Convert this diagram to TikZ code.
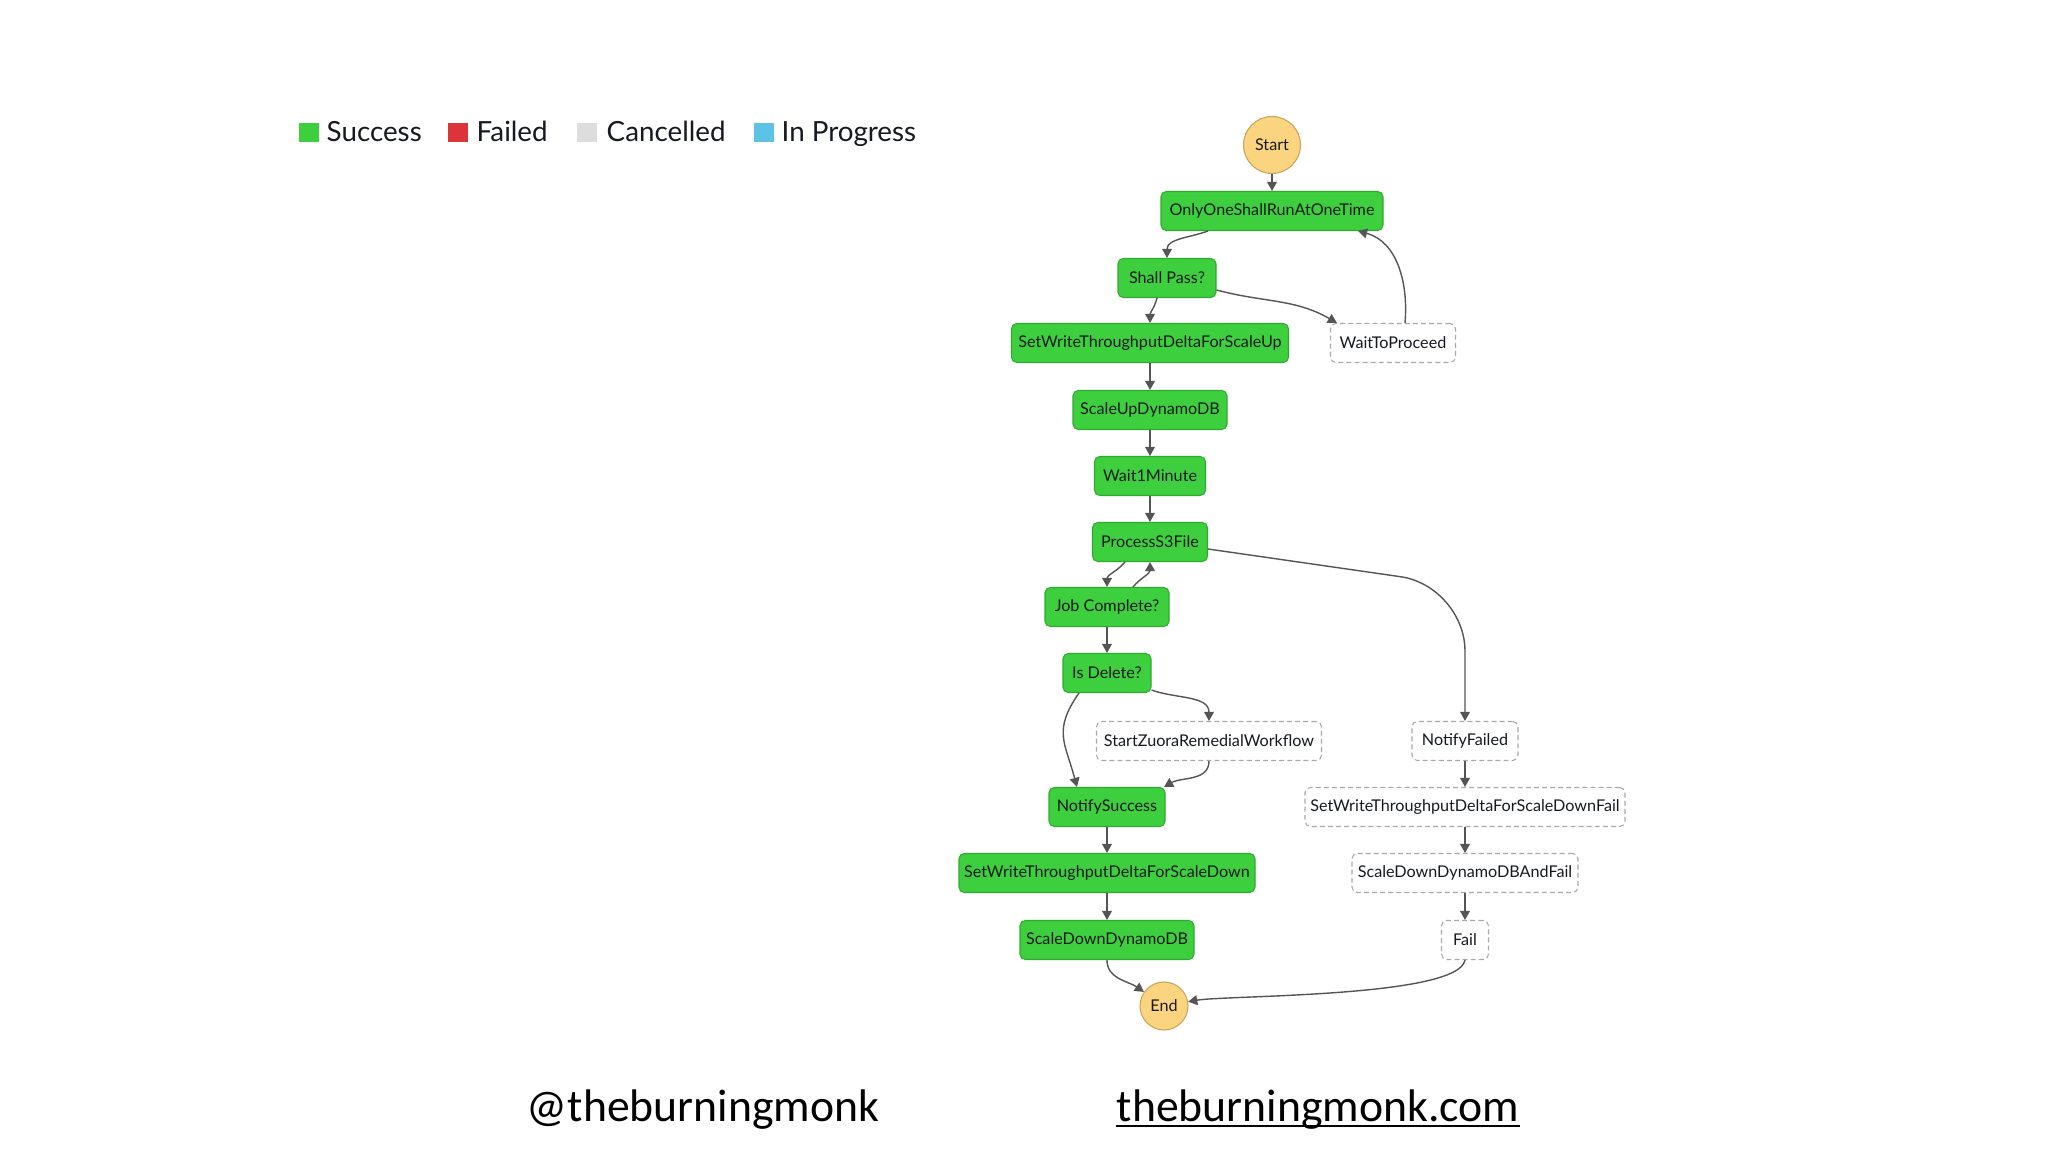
\documentclass[tikz,border=0pt]{standalone}
\usepackage{fontspec}
\setmainfont{Lato}
\newfontfamily\handlefont{Carlito}
\usetikzlibrary{arrows.meta,positioning}
\usepackage{xcolor}
\definecolor{okgreen}{HTML}{3ECF3E}
\definecolor{okgreenline}{HTML}{2EAA2E}
\definecolor{failred}{HTML}{DB3539}
\definecolor{cancelgrey}{HTML}{DDDDDD}
\definecolor{runblue}{HTML}{5CC3E6}
\definecolor{termfill}{HTML}{FBD47F}
\definecolor{termline}{HTML}{C9A45A}
\definecolor{skipline}{HTML}{A8A8A8}
\definecolor{edgegrey}{HTML}{555555}
\definecolor{inkdark}{HTML}{16191F}
\tikzset{
  state/.style={draw=okgreenline,fill=okgreen,rounded corners=1.5pt,line width=0.3pt,
    minimum height=0.39cm,inner sep=0pt,font=\fontsize{4.6}{5}\selectfont,text=inkdark},
  skipped/.style={state,draw=skipline,fill=white,dash pattern=on 1.4pt off 0.9pt},
  terminal/.style={circle,draw=termline,fill=termfill,line width=0.3pt,inner sep=0pt,
    font=\fontsize{4.6}{5}\selectfont,text=inkdark},
  flow/.style={draw=edgegrey,line width=0.4pt,-{Triangle[length=2.6pt,width=2.8pt]}},
  legendbox/.style={minimum width=0.2cm,minimum height=0.19cm,inner sep=0pt},
  legendtext/.style={anchor=base west,font=\fontsize{7.9}{9}\selectfont,text=inkdark,inner sep=0pt},
  footer/.style={anchor=base,font=\handlefont\fontsize{13}{15}\selectfont,text=black,inner sep=0pt},
}

\begin{document}
\begin{tikzpicture}
  % Page
  \fill[white] (0,0) rectangle (20.48,-11.52);
  \useasboundingbox (0,0) rectangle (20.48,-11.52);

  % Legend
  \node[legendbox,fill=okgreen] (lgok) at (3.09,-1.325) {};
  \node[legendtext] (lgoktext) at (3.26,-1.415) {Success};
  \node[legendbox,fill=failred] (lgfail) at (4.58,-1.325) {};
  \node[legendtext] (lgfailtext) at (4.76,-1.415) {Failed};
  \node[legendbox,fill=cancelgrey] (lgcancel) at (5.865,-1.325) {};
  \node[legendtext] (lgcanceltext) at (6.06,-1.415) {Cancelled};
  \node[legendbox,fill=runblue] (lgrun) at (7.635,-1.325) {};
  \node[legendtext] (lgruntext) at (7.81,-1.415) {In Progress};

  % States
  \node[terminal,minimum size=0.57cm] (start) at (12.72,-1.45) {Start};
  \node[state,minimum width=2.22cm] (once) at (12.72,-2.11) {OnlyOneShallRunAtOneTime};
  \node[state,minimum width=0.98cm] (pass) at (11.67,-2.78) {Shall Pass?};
  \node[state,minimum width=2.77cm] (up) at (11.50,-3.43) {SetWriteThroughputDeltaForScaleUp};
  \node[skipped,minimum width=1.25cm] (wait) at (13.93,-3.43) {WaitToProceed};
  \node[state,minimum width=1.54cm] (scaleup) at (11.50,-4.10) {ScaleUpDynamoDB};
  \node[state,minimum width=1.11cm] (wait1) at (11.50,-4.76) {Wait1Minute};
  \node[state,minimum width=1.15cm] (proc) at (11.50,-5.42) {ProcessS3File};
  \node[state,minimum width=1.24cm] (job) at (11.07,-6.07) {Job Complete?};
  \node[state,minimum width=0.88cm] (isdel) at (11.07,-6.73) {Is Delete?};
  \node[skipped,minimum width=2.25cm] (zuora) at (12.09,-7.41) {StartZuoraRemedialWorkflow};
  \node[skipped,minimum width=1.06cm] (nfail) at (14.65,-7.41) {NotifyFailed};
  \node[state,minimum width=1.16cm] (nsucc) at (11.07,-8.07) {NotifySuccess};
  \node[skipped,minimum width=3.20cm] (downfail) at (14.65,-8.07) {SetWriteThroughputDeltaForScaleDownFail};
  \node[state,minimum width=2.96cm] (down) at (11.07,-8.73) {SetWriteThroughputDeltaForScaleDown};
  \node[skipped,minimum width=2.26cm] (downandfail) at (14.65,-8.73) {ScaleDownDynamoDBAndFail};
  \node[state,minimum width=1.74cm] (scaledown) at (11.07,-9.40) {ScaleDownDynamoDB};
  \node[skipped,minimum width=0.47cm] (fail) at (14.65,-9.40) {Fail};
  \node[terminal,minimum size=0.48cm] (end) at (11.64,-10.06) {End};
  \coordinate (failbend) at (14.65,-5.86);

  % Transitions
  \draw[flow] (start) -- (once);
  \draw[flow] ([xshift=-0.64cm]once.south) to[out=-160,in=90] (pass.north);
  \draw[flow] ([xshift=-0.1cm]pass.south) to[out=-105,in=90] (up.north);
  \draw[flow] ([yshift=-0.12cm]pass.east) to[out=-15,in=150] ([xshift=0.07cm]wait.north west);
  \draw[flow] ([xshift=0.12cm]wait.north) to[out=85,in=-15] ([xshift=0.86cm]once.south);
  \draw[flow] (up) -- (scaleup);
  \draw[flow] (scaleup) -- (wait1);
  \draw[flow] (wait1) -- (proc);
  \draw[flow] ([xshift=-0.25cm]proc.south) to[out=-130,in=90] (job.north);
  \draw[flow] ([xshift=0.26cm]job.north) to[out=50,in=-90] (proc.south);
  \draw[flow,rounded corners=0.65cm] ([yshift=-0.07cm]proc.east) -- (failbend) -- (nfail.north);
  \draw[flow] (job) -- (isdel);
  \draw[flow] ([yshift=0.03cm]isdel.south east) to[out=-20,in=90] (zuora.north);
  \draw[flow] ([xshift=-0.28cm]isdel.south) to[out=-125,in=105,looseness=1.25] ([xshift=-0.3cm]nsucc.north);
  \draw[flow] (zuora.south) to[out=-90,in=30] ([xshift=0.57cm]nsucc.north);
  \draw[flow] (nsucc) -- (down);
  \draw[flow] (down) -- (scaledown);
  \draw[flow] (scaledown.south) to[out=-90,in=145] (end);
  \draw[flow] (nfail) -- (downfail);
  \draw[flow] (downfail) -- (downandfail);
  \draw[flow] (downandfail) -- (fail);
  \draw[flow] (fail.south) to[out=-100,in=10,looseness=0.35] (end);

  % Footer
  \node[footer] (handle) at (7.03,-11.21) {@theburningmonk};
  \node[footer] (site) at (13.18,-11.21) {theburningmonk.com};
  \draw[line width=0.8pt] ([yshift=-0.05cm]site.base west) -- ([yshift=-0.05cm]site.base east);
\end{tikzpicture}
\end{document}
